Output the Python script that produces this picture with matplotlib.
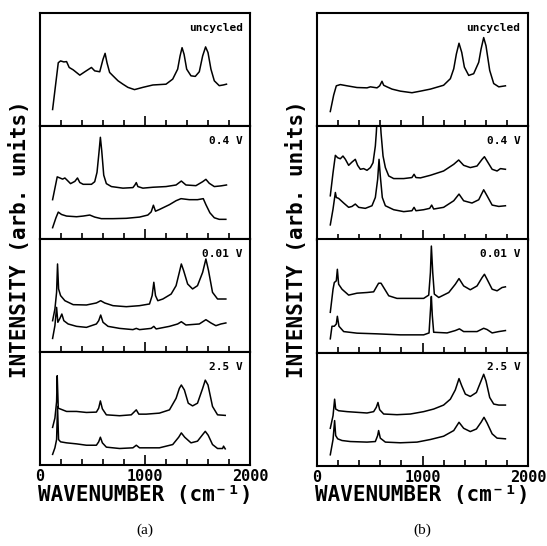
import matplotlib
matplotlib.use("Agg")
import matplotlib.pyplot as plt
from matplotlib.ticker import MultipleLocator

# ---- data (wavenumber in cm-1, intensity in % of panel height) ----
# column (a)
a_uncyc_wn = [120, 174, 196, 227, 253, 278, 316, 379, 427, 490, 521, 569, 600, 620, 638, 663, 695, 743,
              790, 837, 900, 980, 1075, 1200, 1264, 1311, 1334, 1353, 1372, 1397, 1438, 1479, 1517, 1549,
              1577, 1600, 1628, 1660, 1707, 1745, 1776]
a_uncyc_int = [14.6, 56, 57.6, 56.7, 57, 51.8, 49.7, 45, 48, 51.8, 48.8, 48, 59, 64.3, 56, 47.4, 44.4, 40,
               37, 34.2, 32.2, 34.2, 36.3, 37, 41.5, 50.3, 62, 69.3, 63.5, 50.3, 44.4, 43.9, 48, 62,
               70, 65, 50.3, 40, 35.7, 36.3, 37]

a_04_up_wn = [120, 164, 190, 215, 237, 259, 291, 332, 357, 379, 411, 458, 490, 521, 543, 562, 575, 588, 607,
              632, 680, 790, 885, 904, 917, 932, 980, 1075, 1200, 1296, 1346, 1390, 1485, 1549, 1580, 1612,
              1660, 1723, 1776]
a_04_up_int = [34.8, 55, 54, 53, 54, 52, 49, 51, 54, 50, 48.4, 48.4, 48.4, 50.7, 59, 76.8, 90, 78, 56.5,
               49, 46.4, 45, 45.5, 47.8, 49.9, 46.4, 45, 45.8, 46.4, 47.8, 51.3, 47.8, 47.2, 50.7, 52.8, 49.3,
               46.4, 47, 47.8]
a_04_lo_wn = [120, 152, 174, 205, 253, 348, 411, 474, 521, 584, 695, 822, 948, 1027, 1059, 1080, 1100, 1137,
              1233, 1296, 1343, 1422, 1500, 1555, 1580, 1618, 1660, 1707, 1770]
a_04_lo_int = [10, 18.8, 23.8, 21.7, 20.3, 19.7, 20.3, 21.2, 19.4, 18, 18, 18.3, 19.4, 21.2, 24, 29.9, 24.6,
               26.1, 30.4, 33.9, 35.7, 34.8, 34.8, 35.7, 30.4, 23.2, 18.8, 17.4, 17.4]

a_001_up_wn = [120, 142, 158, 167, 177, 196, 237, 316, 442, 537, 578, 616, 695, 822, 948, 1043, 1068, 1084,
               1100, 1122, 1170, 1249, 1296, 1327, 1346, 1368, 1406, 1453, 1500, 1549, 1580, 1605, 1643,
               1691, 1770]
a_001_up_int = [27.7, 38, 52.8, 77.9, 55.8, 49.9, 45.4, 41.9, 41.6, 43.4, 45.4, 43.4, 41, 40.1, 41, 42.5,
                49.9, 61.7, 49.9, 45.4, 46.9, 51.3, 58.7, 70.5, 77.9, 72, 60.2, 55.8, 58.7, 70.5, 82.3, 72,
                52.8, 46.9, 46.9]
a_001_lo_wn = [120, 142, 158, 170, 190, 208, 227, 268, 348, 442, 537, 559, 578, 600, 648, 758, 885, 917, 948,
               1059, 1084, 1106, 1233, 1311, 1346, 1390, 1517, 1580, 1628, 1675, 1723, 1770]
a_001_lo_int = [12, 23.3, 39.5, 26.3, 29.8, 33.6, 27.7, 24.8, 22.7, 21.8, 24.8, 27.7, 32.7, 26.3, 22.7, 20.9,
                19.8, 20.9, 19.8, 20.9, 22.7, 20.4, 22.7, 24.8, 26.8, 23.9, 24.8, 28.6, 25.7, 23.3, 24.8, 25.7]

a_25_up_wn = [120, 142, 158, 164, 174, 190, 253, 348, 442, 537, 559, 575, 594, 632, 758, 869, 917, 941, 1011,
              1137, 1233, 1296, 1327, 1346, 1375, 1412, 1453, 1500, 1549, 1574, 1600, 1643, 1691, 1764]
a_25_up_int = [33.3, 41.5, 56, 79, 50.3, 49.7, 47.4, 47.4, 46.5, 46.8, 50.3, 56.7, 49.7, 44.4, 43.6, 44.4,
               48.8, 45, 45, 45.9, 48.8, 59, 67.8, 70.8, 66.4, 54.7, 52.3, 54.7, 67.8, 75.1, 70.8, 51.8,
               44.4, 43.9]
a_25_lo_wn = [120, 142, 158, 167, 177, 196, 253, 348, 442, 537, 559, 575, 594, 632, 758, 885, 917, 948, 1137,
              1264, 1321, 1346, 1378, 1438, 1500, 1549, 1574, 1602, 1643, 1691, 1739, 1748, 1764]
a_25_lo_int = [9.4, 15.2, 22.5, 51.8, 22.5, 20.5, 19.6, 18.7, 17.5, 17.5, 20.5, 24.6, 19.6, 15.8, 14.6, 15.2,
               17.5, 15.2, 15.2, 18.1, 24.6, 28.4, 24.6, 19.6, 21.1, 26.9, 29.8, 26.3, 18.1, 14.6, 14.6,
               16.7, 14.3]

# column (b)
b_uncyc_wn = [126, 158, 183, 221, 285, 379, 474, 506, 569, 594, 616, 632, 663, 711, 790, 900, 980, 1075,
              1200, 1264, 1296, 1321, 1346, 1372, 1397, 1438, 1485, 1533, 1555, 1580, 1602, 1637, 1675,
              1723, 1786]
b_uncyc_int = [13, 27.5, 35.7, 36.8, 35.7, 34.2, 33.9, 34.8, 33.9, 35.7, 39.7, 36.2, 34.8, 32.8, 31, 29.6,
               31, 32.8, 36.2, 42, 50.7, 63.8, 73.3, 65.2, 52.2, 44.9, 46.4, 56.5, 68.1, 78.3, 71, 49.3,
               37.7, 34.8, 35.7]

b_04_up_wn = [126, 152, 174, 196, 221, 246, 269, 300, 332, 363, 385, 411, 442, 474, 506, 531, 553, 562, 584,
              607, 626, 648, 680, 727, 822, 900, 920, 938, 980, 1075, 1200, 1296, 1343, 1390, 1453, 1517,
              1565, 1587, 1612, 1660, 1707, 1739, 1786]
b_04_up_int = [38.6, 59, 74.3, 72.2, 71.3, 73.7, 70.8, 65.5, 68.4, 70.8, 65.5, 62, 62.6, 61.1, 63.5, 67.8,
               82.5, 94, 130, 94, 73.7, 63.5, 56.1, 53.8, 53.8, 54.7, 57.6, 54.7, 54.4, 56.7, 60.5, 66.4,
               70.2, 65.5, 63.5, 64.9, 70.8, 73.1, 69.3, 62, 60.5, 62.6, 62]
b_04_lo_wn = [126, 152, 174, 183, 205, 253, 300, 332, 363, 395, 458, 521, 553, 575, 588, 600, 619, 648, 727,
              822, 900, 920, 938, 1011, 1068, 1087, 1106, 1200, 1296, 1346, 1390, 1469, 1533, 1580, 1612,
              1660, 1723, 1786]
b_04_lo_int = [12.9, 26.9, 41.5, 37.1, 36.3, 32.2, 28.4, 29.2, 31.3, 28.4, 27.5, 29.8, 37.1, 53.2, 70.8,
               56.1, 37.1, 29.8, 26.3, 24.6, 25.4, 28.4, 25.4, 26.3, 27.5, 30.4, 26.9, 28.4, 34.2, 40.1,
               34.2, 32.2, 35.1, 43.9, 38.6, 30.4, 29.2, 29.8]

b_001_up_wn = [126, 152, 164, 183, 193, 205, 237, 300, 379, 474, 537, 569, 584, 607, 632, 680, 758, 885,
               1011, 1059, 1075, 1084, 1097, 1112, 1154, 1249, 1311, 1346, 1390, 1453, 1517, 1565, 1587,
               1612, 1660, 1707, 1754, 1786]
b_001_up_int = [35.7, 56.1, 62, 63.5, 73.7, 60.5, 56.1, 50.9, 52.6, 53.2, 53.8, 59, 61.4, 61.4, 57.6, 50.3,
                48, 48, 48, 50.9, 70.8, 94.2, 70.8, 51.8, 48.8, 53.2, 60.5, 65.5, 59, 55.6, 59, 66.4, 69.3,
                64.9, 56.1, 54.7, 57.6, 58.2]
b_001_lo_wn = [126, 142, 164, 183, 193, 208, 253, 379, 569, 790, 1011, 1062, 1078, 1084, 1093, 1106, 1233,
               1311, 1350, 1390, 1517, 1580, 1612, 1660, 1723, 1786]
b_001_lo_int = [12.3, 23.4, 23.4, 25.4, 32.2, 23.4, 18.7, 17.3, 16.7, 15.8, 15.8, 17.5, 41.5, 49.7, 32.7,
                18.1, 17.5, 19.6, 21.1, 18.7, 18.7, 21.6, 20.5, 17.5, 18.7, 19.6]

b_25_up_wn = [126, 152, 167, 177, 205, 285, 379, 474, 537, 562, 578, 594, 632, 758, 885, 1011, 1106, 1200,
              1264, 1311, 1346, 1372, 1406, 1453, 1511, 1549, 1580, 1602, 1637, 1675, 1723, 1786]
b_25_up_int = [33.3, 44.4, 59, 50.3, 48.8, 48, 47.4, 46.8, 48, 51.8, 56.1, 49.7, 45.9, 45.3, 45.9, 48, 50.3,
               53.8, 59, 67.2, 77.2, 70.8, 63.5, 61.4, 64.9, 73.7, 81, 75.1, 60.5, 54.7, 53.8, 53.8]
b_25_lo_wn = [126, 152, 167, 177, 196, 237, 316, 474, 553, 575, 584, 600, 648, 790, 948, 1075, 1200, 1296,
              1346, 1390, 1453, 1511, 1555, 1583, 1612, 1660, 1707, 1786]
b_25_lo_int = [9.9, 23.4, 40.1, 26.9, 24, 22.5, 21.6, 21.1, 21.6, 26.9, 31.3, 24.6, 21.1, 20.5, 21.1, 23.4,
               26.3, 31.3, 38.6, 33.3, 30.4, 32.7, 38.6, 43, 38, 28.4, 24.6, 24]

panel_labels = ["uncycled", "0.4 V", "0.01 V", "2.5 V"]

col_a = [[(a_uncyc_wn, a_uncyc_int)],
         [(a_04_up_wn, a_04_up_int), (a_04_lo_wn, a_04_lo_int)],
         [(a_001_up_wn, a_001_up_int), (a_001_lo_wn, a_001_lo_int)],
         [(a_25_up_wn, a_25_up_int), (a_25_lo_wn, a_25_lo_int)]]
col_b = [[(b_uncyc_wn, b_uncyc_int)],
         [(b_04_up_wn, b_04_up_int), (b_04_lo_wn, b_04_lo_int)],
         [(b_001_up_wn, b_001_up_int), (b_001_lo_wn, b_001_lo_int)],
         [(b_25_up_wn, b_25_up_int), (b_25_lo_wn, b_25_lo_int)]]

W, H = 547, 546
fig = plt.figure(figsize=(W / 100, H / 100), dpi=100)
mono = "DejaVu Sans Mono"


def draw_column(panels, x0, x1, top, ph, letter):
    for i, spectra in enumerate(panels):
        y_top = top + ph * i
        ax = fig.add_axes([x0 / W, 1 - (y_top + ph) / H, (x1 - x0) / W, ph / H])
        for wn, inten in spectra:
            ax.plot(wn, inten, color="black", lw=1.1)
        ax.set_xlim(0, 2000)
        ax.set_ylim(0, 100)
        ax.set_yticks([])
        ax.xaxis.set_major_locator(MultipleLocator(1000))
        ax.xaxis.set_minor_locator(MultipleLocator(200))
        ax.tick_params(axis="x", which="major", direction="in", length=7, width=1.2)
        ax.tick_params(axis="x", which="minor", direction="in", length=4, width=1.2)
        for sp in ax.spines.values():
            sp.set_linewidth(1.5)
        ax.text(0.965, 0.87, panel_labels[i], transform=ax.transAxes, ha="right", va="center",
                family=mono, fontweight="bold", fontsize=8)
        if i < len(panels) - 1:
            ax.tick_params(axis="x", labelbottom=False)
        else:
            ax.set_xticks([0, 1000, 2000])
            ax.set_xticklabels(["0", "1000", "2000"], family=mono, fontweight="bold", fontsize=11)
            ax.tick_params(axis="x", pad=3)
    cx = (x0 + x1) / 2 / W
    fig.text(cx, 1 - 495 / H, "WAVENUMBER (cm⁻¹)", ha="center", va="center",
             family=mono, fontweight="bold", fontsize=15)
    fig.text((x0 - 20) / W, 1 - (top + 2 * ph) / H, "INTENSITY (arb. units)", rotation=90,
             ha="center", va="center", family=mono, fontweight="bold", fontsize=15)
    fig.text(cx, 1 - 530 / H, letter, ha="center", va="center", family="Liberation Serif", fontsize=11)


draw_column(col_a, 40, 250, 13, 113, "(a)")
draw_column(col_b, 317, 528, 13, 113.25, "(b)")

fig.savefig("out.png", dpi=100)
